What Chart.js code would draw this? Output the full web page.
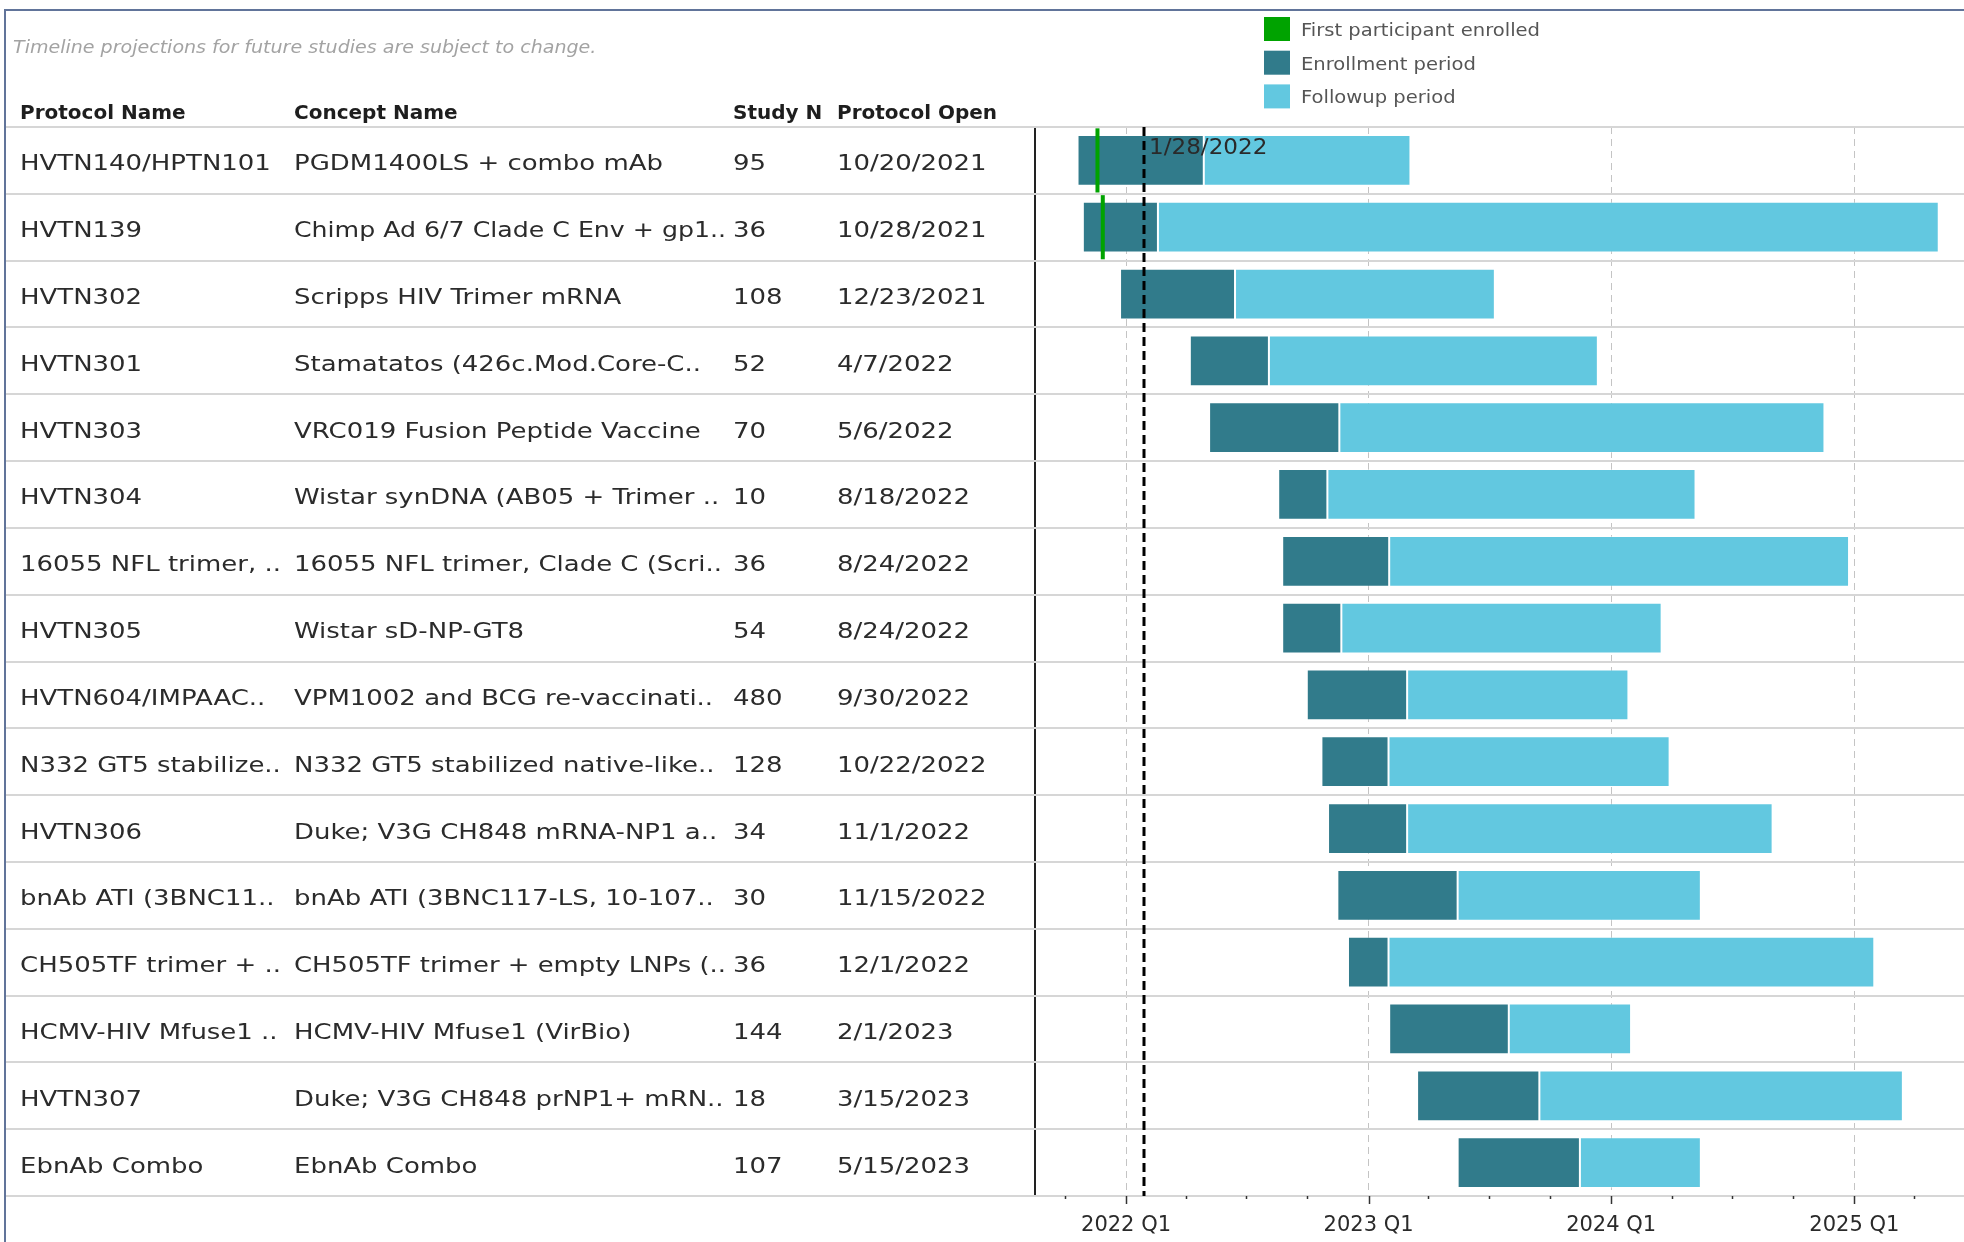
<!DOCTYPE html>
<html>
<head>
<meta charset="utf-8">
<title>Protocol timeline</title>
<script src="https://cdn.jsdelivr.net/npm/chart.js@4.4.1/dist/chart.umd.min.js"></script>
<style>
  html, body { margin: 0; padding: 0; background: #fff; }
  #wrap { position: relative; width: 1964px; height: 1242px; }
</style>
</head>
<body>
<div id="wrap"><canvas id="timelineChart"></canvas></div>
<script>
// table columns
const protocolNames = ['HVTN140/HPTN101', 'HVTN139', 'HVTN302', 'HVTN301', 'HVTN303', 'HVTN304',
  '16055 NFL trimer, ..', 'HVTN305', 'HVTN604/IMPAAC..', 'N332 GT5 stabilize..', 'HVTN306',
  'bnAb ATI (3BNC11..', 'CH505TF trimer + ..', 'HCMV-HIV Mfuse1 ..', 'HVTN307', 'EbnAb Combo'];
const conceptNames = ['PGDM1400LS + combo mAb', 'Chimp Ad 6/7 Clade C Env + gp1..', 'Scripps HIV Trimer mRNA',
  'Stamatatos (426c.Mod.Core-C..', 'VRC019 Fusion Peptide Vaccine', 'Wistar synDNA (AB05 + Trimer ..',
  '16055 NFL trimer, Clade C (Scri..', 'Wistar sD-NP-GT8', 'VPM1002 and BCG re-vaccinati..',
  'N332 GT5 stabilized native-like..', 'Duke; V3G CH848 mRNA-NP1 a..', 'bnAb ATI (3BNC117-LS, 10-107..',
  'CH505TF trimer + empty LNPs (..', 'HCMV-HIV Mfuse1 (VirBio)', 'Duke; V3G CH848 prNP1+ mRN..', 'EbnAb Combo'];
const studyN = [95, 36, 108, 52, 70, 10, 36, 54, 480, 128, 34, 30, 36, 144, 18, 107];
const protocolOpen = ['10/20/2021', '10/28/2021', '12/23/2021', '4/7/2022', '5/6/2022', '8/18/2022',
  '8/24/2022', '8/24/2022', '9/30/2022', '10/22/2022', '11/1/2022', '11/15/2022', '12/1/2022',
  '2/1/2023', '3/15/2023', '5/15/2023'];
const headers = ['Protocol Name', 'Concept Name', 'Study N', 'Protocol Open'];

// gantt series (ISO dates)
const openDates = ['2021-10-20', '2021-10-28', '2021-12-23', '2022-04-07', '2022-05-06', '2022-08-18',
  '2022-08-24', '2022-08-24', '2022-09-30', '2022-10-22', '2022-11-01', '2022-11-15', '2022-12-01',
  '2023-02-01', '2023-03-15', '2023-05-15'];
const enrollEnd = ['2022-04-28', '2022-02-18', '2022-06-14', '2022-08-04', '2022-11-18', '2022-10-31',
  '2023-02-01', '2022-11-21', '2023-02-28', '2023-01-31', '2023-02-28', '2023-05-15', '2023-01-31',
  '2023-07-31', '2023-09-15', '2023-11-15'];
const followupEnd = ['2023-03-05', '2025-05-08', '2023-07-10', '2023-12-12', '2024-11-17', '2024-05-07',
  '2024-12-24', '2024-03-17', '2024-01-27', '2024-03-29', '2024-08-31', '2024-05-15', '2025-01-31',
  '2024-01-31', '2025-03-15', '2024-05-15'];
const firstEnrolled = ['2021-11-16', '2021-11-24', null, null, null, null, null, null,
  null, null, null, null, null, null, null, null];

const legendLabels = ['First participant enrolled', 'Enrollment period', 'Followup period'];
const refDate = '2022-01-28';
const refLabel = '1/28/2022';
const noteText = 'Timeline projections for future studies are subject to change.';

// x axis: quarter ticks, only year starts are labelled
const tickDates = ['2021-10-01', '2022-01-01', '2022-04-01', '2022-07-01', '2022-10-01', '2023-01-01',
  '2023-04-01', '2023-07-01', '2023-10-01', '2024-01-01', '2024-04-01', '2024-07-01', '2024-10-01',
  '2025-01-01', '2025-04-01'];
const tickLabels = ['', '2022 Q1', '', '', '', '2023 Q1', '', '', '', '2024 Q1', '', '', '', '2025 Q1', ''];
const axisMin = '2021-08-17';
const axisMax = '2025-06-15';

const ms = s => Date.parse(s);
const FONT = "'DejaVu Sans', sans-serif";

Chart.defaults.font.family = FONT;

// stretched text, shrunk if it would overflow its column
function wideText(ctx, text, x, y, sx, maxW) {
  const w = ctx.measureText(text).width;
  let k = sx;
  if (maxW && w * k > maxW) k = maxW / w;
  ctx.save();
  ctx.translate(x, y);
  ctx.scale(k, 1);
  ctx.fillText(text, 0, 0);
  ctx.restore();
}

const pagePlugin = {
  id: 'page',
  beforeDraw(chart) {
    const ctx = chart.ctx;
    ctx.save();
    ctx.fillStyle = '#ffffff';
    ctx.fillRect(0, 0, chart.width, chart.height);
    ctx.restore();
  },
  beforeDatasetsDraw(chart) {
    // row separators through table and plot
    const ctx = chart.ctx;
    const y = chart.scales.y;
    const rowH = (y.bottom - y.top) / protocolNames.length;
    ctx.save();
    ctx.strokeStyle = '#d6d6d6';
    ctx.lineWidth = 2;
    for (let i = 0; i <= protocolNames.length; i++) {
      const py = Math.round(y.top + i * rowH);
      ctx.beginPath();
      ctx.moveTo(6, py);
      ctx.lineTo(chart.width, py);
      ctx.stroke();
    }
    ctx.restore();
  },
  afterDatasetsDraw(chart) {
    // today reference line
    const ctx = chart.ctx;
    const x = chart.scales.x;
    const area = chart.chartArea;
    const px = Math.round(x.getPixelForValue(ms(refDate)));
    ctx.save();
    ctx.strokeStyle = '#000';
    ctx.lineWidth = 3;
    ctx.setLineDash([9, 5]);
    ctx.beginPath();
    ctx.moveTo(px, area.top);
    ctx.lineTo(px, area.bottom);
    ctx.stroke();
    ctx.setLineDash([]);
    ctx.fillStyle = '#2a2a2a';
    ctx.font = '22px ' + FONT;
    ctx.textBaseline = 'alphabetic';
    wideText(ctx, refLabel, px + 5, 154, 1.05);
    ctx.restore();
  },
  afterDraw(chart) {
    const ctx = chart.ctx;
    const x = chart.scales.x;
    const y = chart.scales.y;
    const area = chart.chartArea;
    ctx.save();

    // quarter tick marks
    ctx.strokeStyle = '#333';
    ctx.lineWidth = 1.5;
    tickDates.forEach((d, i) => {
      const px = Math.round(x.getPixelForValue(ms(d))) + 0.5;
      const len = tickLabels[i] ? 8 : 3;
      ctx.beginPath();
      ctx.moveTo(px, area.bottom);
      ctx.lineTo(px, area.bottom + len);
      ctx.stroke();
    });

    // note
    ctx.fillStyle = '#a3a3a3';
    ctx.font = 'italic 17px ' + FONT;
    ctx.textBaseline = 'alphabetic';
    wideText(ctx, noteText, 13, 53, 1.12);

    // headers
    const colX = [20, 294, 733, 837];
    const colW = [268, 432, 100, 190];
    ctx.fillStyle = '#1e1e1e';
    ctx.font = 'bold 20px ' + FONT;
    headers.forEach((h, i) => ctx.fillText(h, colX[i], 119));

    // table rows
    ctx.fillStyle = '#2b2b2b';
    ctx.font = '22px ' + FONT;
    protocolNames.forEach((name, i) => {
      const yc = y.getPixelForValue(i) + 10;
      wideText(ctx, name, colX[0], yc, 1.18, colW[0]);
      wideText(ctx, conceptNames[i], colX[1], yc, 1.18, colW[1]);
      wideText(ctx, String(studyN[i]), colX[2], yc, 1.18, colW[2]);
      wideText(ctx, protocolOpen[i], colX[3], yc, 1.18, colW[3]);
    });

    // legend from the datasets
    ctx.font = '17px ' + FONT;
    chart.data.datasets.forEach((ds, i) => {
      const top = 17 + i * 33.7;
      ctx.fillStyle = ds.backgroundColor;
      ctx.fillRect(1264, top, 26, 24);
      ctx.fillStyle = '#555';
      wideText(ctx, ds.label, 1301, top + 19, 1.15);
    });

    // dashboard frame
    ctx.strokeStyle = '#61749a';
    ctx.lineWidth = 2;
    ctx.beginPath();
    ctx.moveTo(5, chart.height);
    ctx.lineTo(5, 10);
    ctx.lineTo(chart.width, 10);
    ctx.stroke();
    ctx.restore();
  }
};

const barCommon = {
  categoryPercentage: 1,
  grouped: false,
  borderSkipped: false
};

new Chart(document.getElementById('timelineChart'), {
  type: 'bar',
  data: {
    labels: protocolNames,
    datasets: [{
      ...barCommon,
      label: legendLabels[0],
      data: firstEnrolled.map(d => d ? [ms(d), ms(d)] : null),
      backgroundColor: '#00a300',
      barPercentage: 0.96,
      minBarLength: 4
    }, {
      ...barCommon,
      label: legendLabels[1],
      data: openDates.map((d, i) => [ms(d), ms(enrollEnd[i])]),
      backgroundColor: '#317b8b',
      borderColor: 'rgba(255,255,255,0.3)',
      borderWidth: 1,
      barPercentage: 0.76
    }, {
      ...barCommon,
      label: legendLabels[2],
      data: enrollEnd.map((d, i) => [ms(d), ms(followupEnd[i])]),
      backgroundColor: '#62c8e0',
      borderColor: 'rgba(255,255,255,0.35)',
      borderWidth: 1,
      barPercentage: 0.76
    }]
  },
  options: {
    indexAxis: 'y',
    responsive: true,
    maintainAspectRatio: false,
    devicePixelRatio: 1,
    animation: false,
    layout: { padding: { top: 127, left: 0, right: 0, bottom: 0 } },
    plugins: {
      legend: { display: false },
      tooltip: { enabled: false }
    },
    scales: {
      x: {
        type: 'linear',
        position: 'bottom',
        min: ms(axisMin),
        max: ms(axisMax),
        afterBuildTicks: scale => { scale.ticks = tickDates.map(d => ({ value: ms(d) })); },
        afterFit: scale => { scale.height = 46; },
        ticks: {
          autoSkip: false,
          maxRotation: 0,
          padding: 17,
          color: '#2a2a2a',
          font: { size: 21 },
          callback: (v, i) => tickLabels[i]
        },
        grid: {
          drawTicks: false,
          lineWidth: 1,
          color: c => (c.tick && tickLabels[c.index]) ? '#c4c4c4' : 'transparent'
        },
        border: { display: true, color: '#222', width: 1.5, dash: [7, 5] }
      },
      y: {
        type: 'category',
        afterFit: scale => { scale.width = 1035; },
        ticks: { display: false },
        grid: { display: false, drawTicks: false },
        border: { display: true, color: '#222', width: 2 }
      }
    }
  },
  plugins: [pagePlugin]
});
</script>
</body>
</html>
